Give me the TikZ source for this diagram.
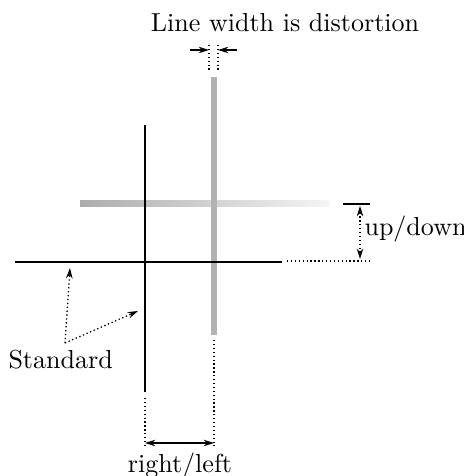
\documentclass[tikz,border=0pt]{standalone}
\usepackage{tikz}
\usetikzlibrary{arrows.meta}

\tikzset{
  stdline/.style={line width=0.8pt, black},
  dstline/.style={line width=2.3pt, gray!60},
  guide/.style={densely dotted, line width=0.5pt},
  dimarrow/.style={line width=0.5pt, -{Stealth[length=4pt, width=2.5pt]}},
  label/.style={inner sep=0pt, font=\normalsize}
}

\begin{document}
\begin{tikzpicture}[x=0.0135cm, y=-0.0135cm]
\useasboundingbox (0,0) rectangle (463,476);

% Reference points
\coordinate (sl) at (15,262);
\coordinate (sr) at (282,262);
\coordinate (st) at (145,125);
\coordinate (sb) at (145,392);
\coordinate (dt) at (213.5,77);
\coordinate (db) at (213.5,335);

% Distorted lines (gray)
\shade[left color=gray!65, middle color=gray!55, right color=gray!8]
  (80,201) rectangle (330,207);
\draw[dstline] (dt) -- (db);

% Standard lines (black)
\draw[stdline] (sl) -- (sr);
\draw[stdline] (st) -- (sb);

% Labels
\node[label, anchor=north] (lw) at (285,13) {Line width is distortion};
\node[label, anchor=base west] (ud) at (364,236) {up/down};
\node[label, anchor=base west] (std) at (8,368) {Standard};
\node[label, anchor=north] (rl) at (180,452) {right/left};

% Line width dimension
\coordinate (t1a) at (209,45);  \coordinate (t1b) at (209,72);
\coordinate (t2a) at (218,45);  \coordinate (t2b) at (218,72);
\draw[guide] (t1a) -- (t1b);
\draw[guide] (t2a) -- (t2b);
\coordinate (wl) at (190,50);
\coordinate (wr) at (237,50);
\draw[dimarrow] (wl) -- (t1a |- wl);
\draw[dimarrow] (wr) -- (t2a |- wr);

% up/down dimension
\coordinate (u1) at (343,204);
\coordinate (u2) at (370,204);
\coordinate (d1) at (287,261);
\coordinate (d2) at (372,261);
\draw[line width=0.5pt] (u1) -- (u2);
\draw[guide] (d1) -- (d2);
\coordinate (ua) at (360,206);
\coordinate (ub) at (360,259);
\draw[dimarrow, densely dotted, {Stealth[length=4pt, width=2.5pt]}-{Stealth[length=4pt, width=2.5pt]}] (ua) -- (ub);

% right/left dimension
\coordinate (e1) at (145,398);
\coordinate (e2) at (214,340);
\coordinate (e1b) at (145,446);
\coordinate (e2b) at (214,446);
\draw[guide] (e1) -- (e1b);
\draw[guide] (e2) -- (e2b);
\coordinate (ra) at (145,443);
\coordinate (rb) at (214,443);
\draw[dimarrow, {Stealth[length=4pt, width=2.5pt]}-{Stealth[length=4pt, width=2.5pt]}] (ra) -- (rb);

% Standard pointers
\coordinate (sp) at (65,343);
\coordinate (p1) at (70,268);
\coordinate (p2) at (138,311);
\draw[dimarrow, densely dotted] (sp) -- (p1);
\draw[dimarrow, densely dotted] (sp) -- (p2);

\end{tikzpicture}
\end{document}
